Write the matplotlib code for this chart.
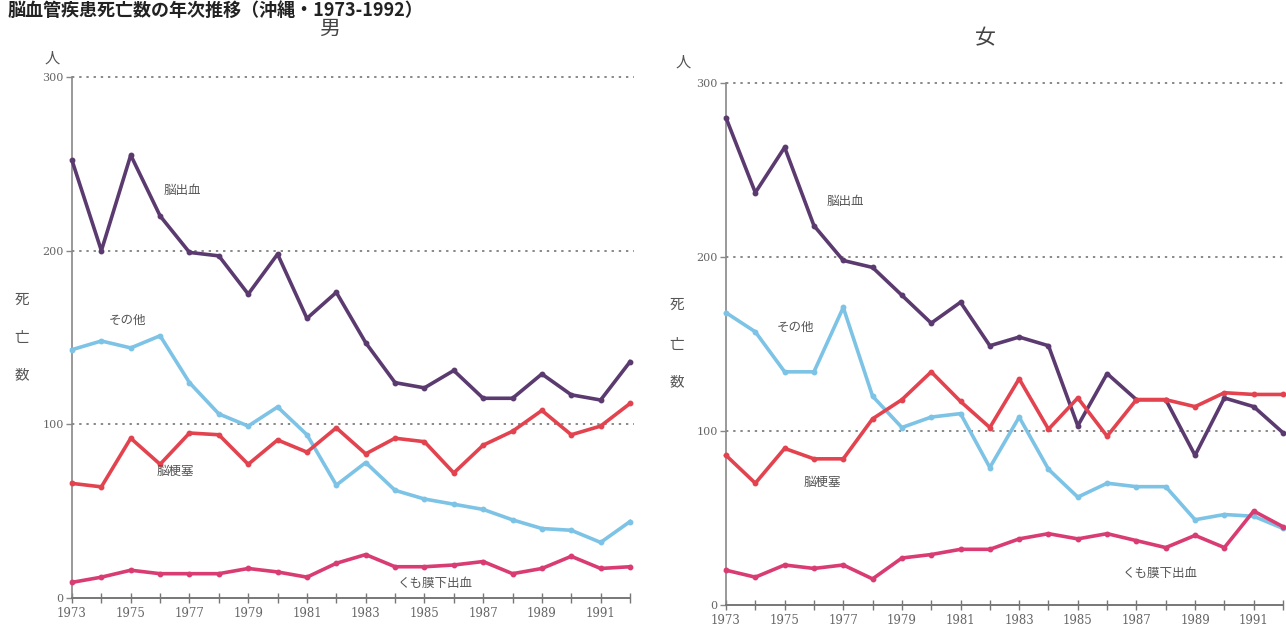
import matplotlib
matplotlib.use("Agg")
import matplotlib.pyplot as plt
import numpy as np

plt.rcParams['font.family'] = ['Noto Sans CJK JP', 'DejaVu Sans']

years = list(range(1973, 1993))

# 男
male_hemorrhage = [252, 200, 255, 220, 199, 197, 175, 198, 161, 176, 147, 124, 121, 131, 115, 115, 129, 117, 114, 136]
male_other      = [143, 148, 144, 151, 124, 106, 99, 110, 94, 65, 78, 62, 57, 54, 51, 45, 40, 39, 32, 44]
male_infarction = [66, 64, 92, 77, 95, 94, 77, 91, 84, 98, 83, 92, 90, 72, 88, 96, 108, 94, 99, 112]
male_subarach   = [9, 12, 16, 14, 14, 14, 17, 15, 12, 20, 25, 18, 18, 19, 21, 14, 17, 24, 17, 18]

# 女
female_hemorrhage = [280, 237, 263, 218, 198, 194, 178, 162, 174, 149, 154, 149, 103, 133, 118, 118, 86, 119, 114, 99]
female_other      = [168, 157, 134, 134, 171, 120, 102, 108, 110, 79, 108, 78, 62, 70, 68, 68, 49, 52, 51, 44]
female_infarction = [86, 70, 90, 84, 84, 107, 118, 134, 117, 102, 130, 101, 119, 97, 118, 118, 114, 122, 121, 121]
female_subarach   = [20, 16, 23, 21, 23, 15, 27, 29, 32, 32, 38, 41, 38, 41, 37, 33, 40, 33, 54, 45]

series_names = ['脳出血', 'その他', '脳梗塞', 'くも膜下出血']
colors = ['#5b3a70', '#7cc3e6', '#e2434f', '#d93c72']

yticks = [0, 100, 200, 300]

W, H = 1286, 633
fig = plt.figure(figsize=(W / 100, H / 100), dpi=100)

def fx(px):
    return px / W

def fy(py):
    return 1 - py / H

panels = [
    dict(rect=(fx(72), fy(598), fx(630 - 72), (598 - 77) / H), title='男', title_xy=(330, 29),
         data=[male_hemorrhage, male_other, male_infarction, male_subarach],
         labels_xy=[(182, 190), (127, 320), (175, 471), (435, 583)],
         jin=(52, 58), shibo=(22, [300, 338, 375]), gridx=634),
    dict(rect=(fx(726), fy(605), fx(1283 - 726), (605 - 83) / H), title='女', title_xy=(985, 38),
         data=[female_hemorrhage, female_other, female_infarction, female_subarach],
         labels_xy=[(845, 201), (795, 327), (822, 482), (1160, 573)],
         jin=(683, 62), shibo=(677, [305, 345, 382]), gridx=1300),
]

for p in panels:
    ax = fig.add_axes(p['rect'])
    ax.set_xlim(1973, 1992)
    ax.set_ylim(0, 300)
    for vals, c in zip(p['data'], colors):
        ax.plot(years, vals, color=c, lw=2.6, marker='o', ms=3.2, clip_on=False, zorder=3)
    # dotted grid lines
    xend = 1992 + (p['gridx'] - (p['rect'][0] + p['rect'][2]) * W) / (p['rect'][2] * W / 19)
    for yv in [100, 200, 300]:
        ax.plot([1973, xend], [yv, yv], ls=(0, (1.2, 2.5)), color='#888888', lw=1.4,
                clip_on=False, zorder=1)
    for s in ['top', 'right']:
        ax.spines[s].set_visible(False)
    ax.spines['left'].set_color('#888888')
    ax.spines['bottom'].set_color('#777777')
    ax.spines['left'].set_linewidth(1.2)
    ax.spines['bottom'].set_linewidth(1.4)
    ax.set_xticks(years)
    ax.set_xticklabels([str(y) if (y - 1973) % 2 == 0 else '' for y in years],
                       fontsize=8.5, color='#666666', family='DejaVu Serif')
    ax.tick_params(axis='x', direction='inout', length=7, width=1, color='#777777', pad=3)
    ax.set_yticks(yticks)
    ax.set_yticklabels([str(v) for v in yticks], fontsize=8, color='#666666', family='DejaVu Serif')
    ax.tick_params(axis='y', direction='out', length=4, width=1, color='#888888', pad=2)
    ax.patch.set_alpha(0)

    fig.text(fx(p['title_xy'][0]), fy(p['title_xy'][1]), p['title'], fontsize=15,
             color='#444444', ha='center', va='center')
    fig.text(fx(p['jin'][0]), fy(p['jin'][1]), '人', fontsize=11, color='#555555',
             ha='center', va='center')
    for ch, yy in zip('死亡数', p['shibo'][1]):
        fig.text(fx(p['shibo'][0]), fy(yy), ch, fontsize=10.5, color='#555555',
                 ha='center', va='center')
    for name, (lx, ly) in zip(series_names, p['labels_xy']):
        fig.text(fx(lx), fy(ly), name, fontsize=9, color='#555555', ha='center', va='center')

fig.text(fx(8), fy(1), '脳血管疾患死亡数の年次推移（沖縄・1973-1992）', fontsize=13,
         fontweight='bold', color='#222222', ha='left', va='top')

fig.savefig('out.png', dpi=100)
